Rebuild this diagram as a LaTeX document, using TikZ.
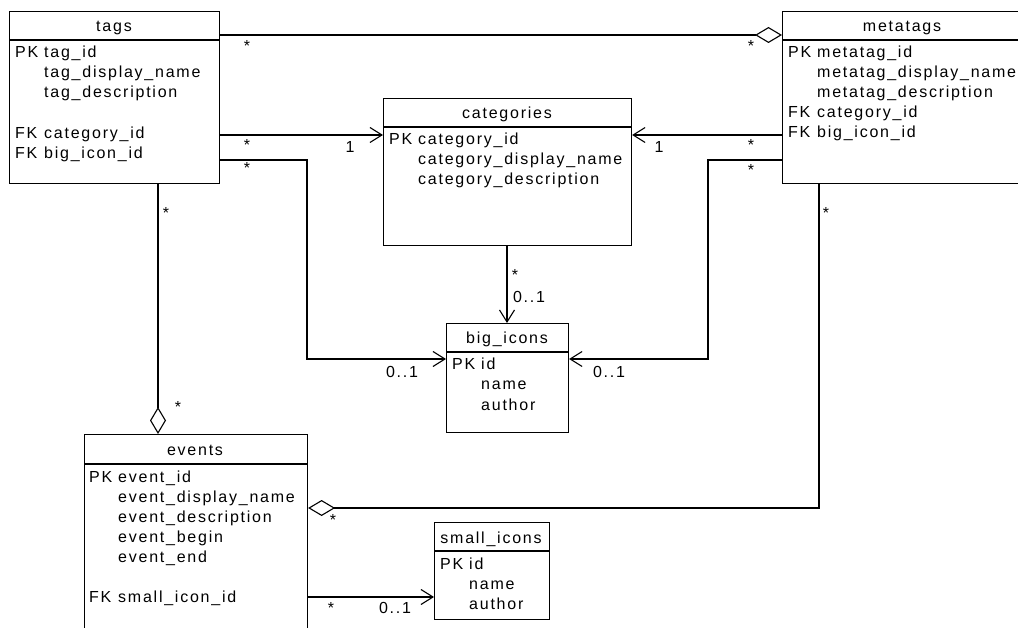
\documentclass[tikz,border=0pt]{standalone}
\usepackage{fontspec}
\setmainfont{Liberation Sans}[LetterSpace=11]
\usetikzlibrary{arrows.meta}
\tikzset{
  ent/.style={draw, line width=1.1pt, rectangle, anchor=north west, inner sep=0pt},
  sep/.style={line width=1.1pt},
  ttl/.style={anchor=base, inner sep=0pt},
  row/.style={anchor=base west, inner sep=0pt},
  lbl/.style={anchor=center, inner sep=0pt},
  starlbl/.style={anchor=base, inner sep=0pt},
  conn/.style={line width=1.1pt},
  nav/.style={conn, -{Straight Barb[length=12pt,width=15pt,line width=1.1pt]}},
  agg/.style={conn, -{Diamond[open,length=27pt,width=16pt,line width=1.1pt]}},
}
\begin{document}
\begin{tikzpicture}[x=1pt,y=-1pt,every node/.style={font=\fontsize{16}{20}\selectfont}]
\useasboundingbox (0,0) rectangle (1018,628);
\clip (0,0) rectangle (1018,628);

% ---------- entity boxes ----------
\node[ent, minimum width=210pt, minimum height=172pt] (tags) at (9,11) {};
\node[ent, minimum width=260pt, minimum height=172pt] (metatags) at (782,11) {};
\node[ent, minimum width=248pt, minimum height=147pt] (categories) at (383,98) {};
\node[ent, minimum width=122pt, minimum height=109pt] (bigicons) at (446,323) {};
\node[ent, minimum width=223pt, minimum height=220pt] (events) at (84,434) {};
\node[ent, minimum width=115pt, minimum height=97pt] (smallicons) at (434,522) {};

% separators
\draw[sep] (tags.west |- 0,40) -- (tags.east |- 0,40);
\draw[sep] (metatags.west |- 0,40) -- (metatags.east |- 0,40);
\draw[sep] (categories.west |- 0,127) -- (categories.east |- 0,127);
\draw[sep] (bigicons.west |- 0,352) -- (bigicons.east |- 0,352);
\draw[sep] (events.west |- 0,464) -- (events.east |- 0,464);
\draw[sep] (smallicons.west |- 0,551) -- (smallicons.east |- 0,551);

% titles
\node[ttl] (tagsT) at (114,32) {tags};
\node[ttl] (metatagsT) at (902,32) {metatags};
\node[ttl] (categoriesT) at (507,119) {categories};
\node[ttl] (bigiconsT) at (507,344) {big\_icons};
\node[ttl] (eventsT) at (195,455) {events};
\node[ttl] (smalliconsT) at (491,543) {small\_icons};

% tags rows
\node[row] (t1k) at (15,58) {PK};
\node[row] (t1) at (44,58) {tag\_id};
\node[row] (t2) at (44,78) {tag\_display\_name};
\node[row] (t3) at (44,98) {tag\_description};
\node[row] (t4k) at (15,139) {FK};
\node[row] (t4) at (44,139) {category\_id};
\node[row] (t5k) at (15,159) {FK};
\node[row] (t5) at (44,159) {big\_icon\_id};

% metatags rows
\node[row] (m1k) at (788,58) {PK};
\node[row] (m1) at (817,58) {metatag\_id};
\node[row] (m2) at (817,78) {metatag\_display\_name};
\node[row] (m3) at (817,98) {metatag\_description};
\node[row] (m4k) at (788,118) {FK};
\node[row] (m4) at (817,118) {category\_id};
\node[row] (m5k) at (788,138) {FK};
\node[row] (m5) at (817,138) {big\_icon\_id};

% categories rows
\node[row] (c1k) at (389,145) {PK};
\node[row] (c1) at (418,145) {category\_id};
\node[row] (c2) at (418,165) {category\_display\_name};
\node[row] (c3) at (418,185) {category\_description};

% big_icons rows
\node[row] (b1k) at (452,370) {PK};
\node[row] (b1) at (481,370) {id};
\node[row] (b2) at (481,390) {name};
\node[row] (b3) at (481,410) {author};

% events rows
\node[row] (e1k) at (89,482) {PK};
\node[row] (e1) at (118,482) {event\_id};
\node[row] (e2) at (118,502) {event\_display\_name};
\node[row] (e3) at (118,522) {event\_description};
\node[row] (e4) at (118,542) {event\_begin};
\node[row] (e5) at (118,562) {event\_end};
\node[row] (e6k) at (89,602) {FK};
\node[row] (e6) at (118,602) {small\_icon\_id};

% small_icons rows
\node[row] (s1k) at (440,569) {PK};
\node[row] (s1) at (469,569) {id};
\node[row] (s2) at (469,589) {name};
\node[row] (s3) at (469,609) {author};

% ---------- connectors ----------
\coordinate (bendD1) at (307,160);
\coordinate (bendD2) at (307,359);
\coordinate (bendE1) at (708,160);
\coordinate (bendE2) at (708,359);
\coordinate (bendH) at (819,508);

\draw[agg] (tags.east |- 0,35) -- (metatags.west |- 0,35);
\draw[nav] (tags.east |- 0,135) -- (categories.west |- 0,135);
\draw[nav] (metatags.west |- 0,135) -- (categories.east |- 0,135);
\draw[nav] (tags.east |- 0,160) -- (bendD1) -- (bendD2) -- (bigicons.west |- 0,359);
\draw[nav] (metatags.west |- 0,160) -- (bendE1) -- (bendE2) -- (bigicons.east |- 0,359);
\draw[nav] (507,0 |- categories.south) -- (507,0 |- bigicons.north);
\draw[agg] (158,0 |- tags.south) -- (158,0 |- events.north);
\draw[agg] (819,0 |- metatags.south) -- (bendH) -- (events.east |- 0,508);
\draw[nav] (events.east |- 0,597) -- (smallicons.west |- 0,597);

% ---------- multiplicities ----------
\node[starlbl] (l1) at (247,52) {*};
\node[starlbl] (l2) at (751,52) {*};
\node[starlbl] (l3) at (247,151) {*};
\node[lbl] (l4) at (350,147) {1};
\node[starlbl] (l5) at (751,151) {*};
\node[lbl] (l6) at (659,147) {1};
\node[starlbl] (l7) at (247,174) {*};
\node[starlbl] (l8) at (751,176) {*};
\node[starlbl] (l9) at (166,219) {*};
\node[starlbl] (l10) at (826,219) {*};
\node[starlbl] (l11) at (515,281) {*};
\node[lbl] (l12) at (529,297) {0..1};
\node[lbl] (l13) at (402,372) {0..1};
\node[lbl] (l14) at (609,372) {0..1};
\node[starlbl] (l15) at (178,413) {*};
\node[starlbl] (l16) at (333,525) {*};
\node[starlbl] (l17) at (331,613) {*};
\node[lbl] (l18) at (395,608) {0..1};
\end{tikzpicture}
\end{document}
